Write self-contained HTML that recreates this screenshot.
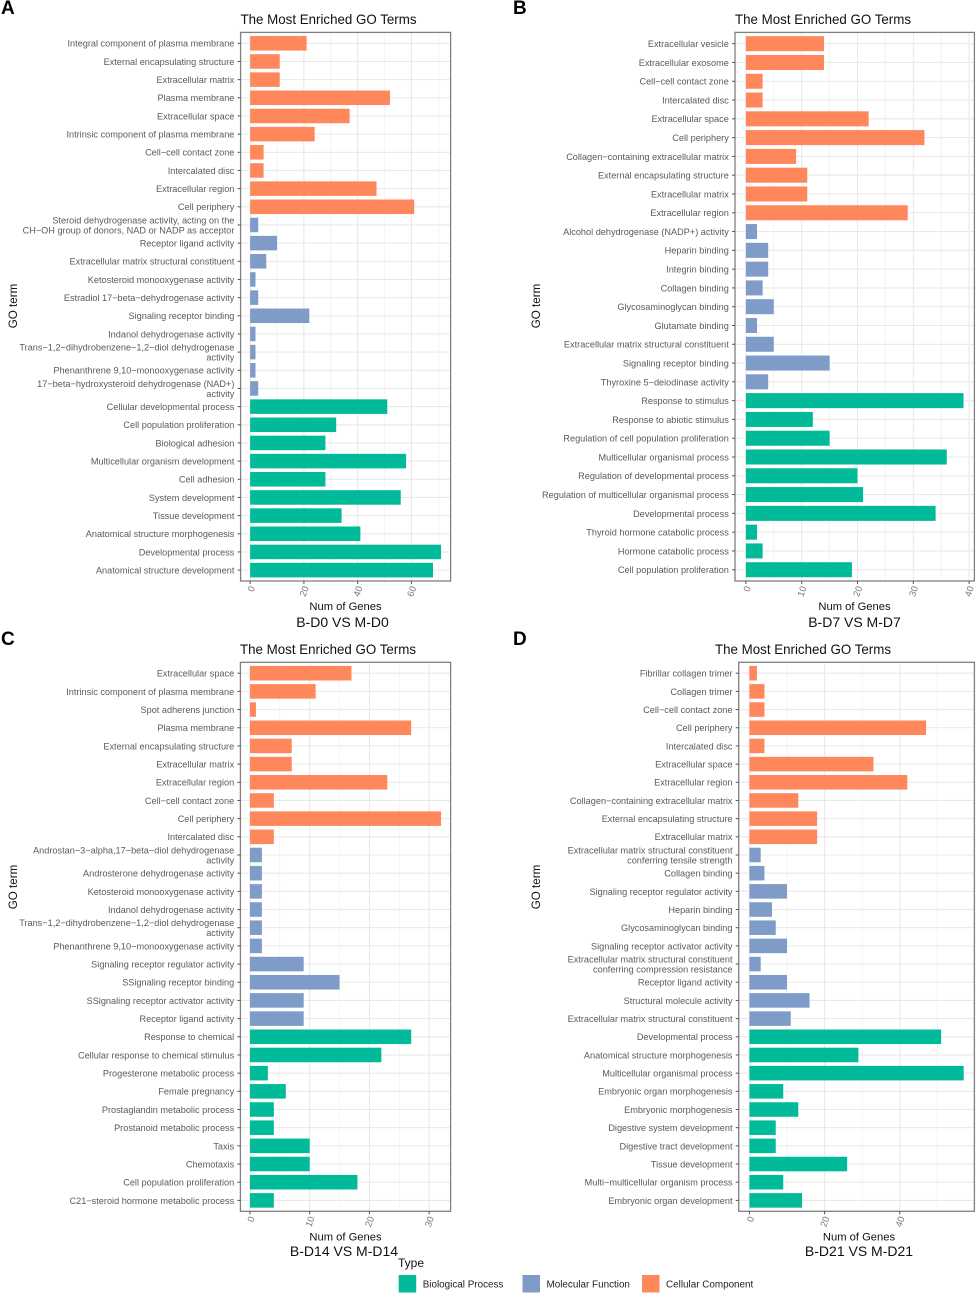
<!DOCTYPE html>
<html lang="en">
<head>
<meta charset="utf-8">
<title>The Most Enriched GO Terms</title>
<style>
html,body{margin:0;padding:0;background:#fff;}
body{width:976px;height:1294px;overflow:hidden;}
svg{display:block;font-family:"Liberation Sans",Arial,sans-serif;}
</style>
</head>
<body>
<svg id="figure" xmlns="http://www.w3.org/2000/svg" width="976" height="1294" viewBox="0 0 976 1294"></svg>
<script>
// ---------- Data ----------
const aTerms = ["Integral component of plasma membrane","External encapsulating structure","Extracellular matrix","Plasma membrane","Extracellular space","Intrinsic component of plasma membrane","Cell−cell contact zone","Intercalated disc","Extracellular region","Cell periphery","Steroid dehydrogenase activity, acting on the\nCH−OH group of donors, NAD or NADP as acceptor","Receptor ligand activity","Extracellular matrix structural constituent","Ketosteroid monooxygenase activity","Estradiol 17−beta−dehydrogenase activity","Signaling receptor binding","Indanol dehydrogenase activity","Trans−1,2−dihydrobenzene−1,2−diol dehydrogenase\nactivity","Phenanthrene 9,10−monooxygenase activity","17−beta−hydroxysteroid dehydrogenase (NAD+)\nactivity","Cellular developmental process","Cell population proliferation","Biological adhesion","Multicellular organism development","Cell adhesion","System development","Tissue development","Anatomical structure morphogenesis","Developmental process","Anatomical structure development"];
const aCounts = [21,11,11,52,37,24,5,5,47,61,3,10,6,2,3,22,2,2,2,3,51,32,28,58,28,56,34,41,71,68];
const aTypes = ["CC","CC","CC","CC","CC","CC","CC","CC","CC","CC","MF","MF","MF","MF","MF","MF","MF","MF","MF","MF","BP","BP","BP","BP","BP","BP","BP","BP","BP","BP"];
const aTicks = [0,20,40,60];

const bTerms = ["Extracellular vesicle","Extracellular exosome","Cell−cell contact zone","Intercalated disc","Extracellular space","Cell periphery","Collagen−containing extracellular matrix","External encapsulating structure","Extracellular matrix","Extracellular region","Alcohol dehydrogenase (NADP+) activity","Heparin binding","Integrin binding","Collagen binding","Glycosaminoglycan binding","Glutamate binding","Extracellular matrix structural constituent","Signaling receptor binding","Thyroxine 5−deiodinase activity","Response to stimulus","Response to abiotic stimulus","Regulation of cell population proliferation","Multicellular organismal process","Regulation of developmental process","Regulation of multicellular organismal process","Developmental process","Thyroid hormone catabolic process","Hormone catabolic process","Cell population proliferation"];
const bCounts = [14,14,3,3,22,32,9,11,11,29,2,4,4,3,5,2,5,15,4,39,12,15,36,20,21,34,2,3,19];
const bTypes = ["CC","CC","CC","CC","CC","CC","CC","CC","CC","CC","MF","MF","MF","MF","MF","MF","MF","MF","MF","BP","BP","BP","BP","BP","BP","BP","BP","BP","BP"];
const bTicks = [0,10,20,30,40];

const cTerms = ["Extracellular space","Intrinsic component of plasma membrane","Spot adherens junction","Plasma membrane","External encapsulating structure","Extracellular matrix","Extracellular region","Cell−cell contact zone","Cell periphery","Intercalated disc","Androstan−3−alpha,17−beta−diol dehydrogenase\nactivity","Androsterone dehydrogenase activity","Ketosteroid monooxygenase activity","Indanol dehydrogenase activity","Trans−1,2−dihydrobenzene−1,2−diol dehydrogenase\nactivity","Phenanthrene 9,10−monooxygenase activity","Signaling receptor regulator activity","SSignaling receptor binding","SSignaling receptor activator activity","Receptor ligand activity","Response to chemical","Cellular response to chemical stimulus","Progesterone metabolic process","Female pregnancy","Prostaglandin metabolic process","Prostanoid metabolic process","Taxis","Chemotaxis","Cell population proliferation","C21−steroid hormone metabolic process"];
const cCounts = [17,11,1,27,7,7,23,4,32,4,2,2,2,2,2,2,9,15,9,9,27,22,3,6,4,4,10,10,18,4];
const cTypes = ["CC","CC","CC","CC","CC","CC","CC","CC","CC","CC","MF","MF","MF","MF","MF","MF","MF","MF","MF","MF","BP","BP","BP","BP","BP","BP","BP","BP","BP","BP"];
const cTicks = [0,10,20,30];

const dTerms = ["Fibrillar collagen trimer","Collagen trimer","Cell−cell contact zone","Cell periphery","Intercalated disc","Extracellular space","Extracellular region","Collagen−containing extracellular matrix","External encapsulating structure","Extracellular matrix","Extracellular matrix structural constituent\nconferring tensile strength","Collagen binding","Signaling receptor regulator activity","Heparin binding","Glycosaminoglycan binding","Signaling receptor activator activity","Extracellular matrix structural constituent\nconferring compression resistance","Receptor ligand activity","Structural molecule activity","Extracellular matrix structural constituent","Developmental process","Anatomical structure morphogenesis","Multicellular organismal process","Embryonic organ morphogenesis","Embryonic morphogenesis","Digestive system development","Digestive tract development","Tissue development","Multi−multicellular organism process","Embryonic organ development"];
const dCounts = [2,4,4,47,4,33,42,13,18,18,3,4,10,6,7,10,3,10,16,11,51,29,57,9,13,7,7,26,9,14];
const dTypes = ["CC","CC","CC","CC","CC","CC","CC","CC","CC","CC","MF","MF","MF","MF","MF","MF","MF","MF","MF","MF","BP","BP","BP","BP","BP","BP","BP","BP","BP","BP"];
const dTicks = [0,20,40];

const legendKeys = ["BP","MF","CC"];
const legendLabels = ["Biological Process","Molecular Function","Cellular Component"];

// ---------- Layout & style ----------
const NS = "http://www.w3.org/2000/svg";
const fig = document.getElementById("figure");
const colors = {BP:"#00ba9a",MF:"#7f9bc8",CC:"#ff875c"};

function mk(tag, attrs, parent, text){
  const el = document.createElementNS(NS, tag);
  for(const k in attrs) el.setAttribute(k, attrs[k]);
  if(text !== undefined) el.textContent = text;
  (parent || fig).appendChild(el);
  return el;
}

function drawPanel(p){
  const g = mk("g", {}, fig);
  
  

  // ggplot-like continuous x scale with 5% expansion
  const maxV = Math.max.apply(null, p.counts);
  const pad = maxV * 0.05;
  const x = v => p.left + (v + pad) / (maxV + 2 * pad) * (p.right - p.left);
  // discrete y scale with 0.6 expansion
  const n = p.terms.length;
  const step = (p.bottom - p.top) / (n + 0.2);
  const y = i => p.top + (i + 0.6) * step;
  const barH = step * 0.8;

  // panel letter
  const letter = mk("text", {x:p.letterX, y:p.letterY, "font-size":19, "font-weight":"bold", fill:"#000"}, g, p.id);
  
  

  // title
  const title = mk("text", {x:p.titleX, y:p.top - 8.5, "font-size":14, fill:"#111", textLength:176, lengthAdjust:"spacingAndGlyphs"}, g, "The Most Enriched GO Terms");
  
  

  // grid
  const grid = mk("g", {}, g);
  
  
  const tickStep = p.ticks[1] - p.ticks[0];
  const minor = p.ticks.map(t => t + tickStep / 2);
  minor.forEach(t => {
    if(x(t) < p.right) mk("line", {x1:x(t), x2:x(t), y1:p.top, y2:p.bottom, stroke:"#f0f0f0", "stroke-width":0.7}, grid);
  });
  p.ticks.forEach(t => {
    mk("line", {x1:x(t), x2:x(t), y1:p.top, y2:p.bottom, stroke:"#e9e9e9", "stroke-width":1.1}, grid);
  });
  p.terms.forEach((_, i) => {
    mk("line", {x1:p.left, x2:p.right, y1:y(i), y2:y(i), stroke:"#e9e9e9", "stroke-width":1.1}, grid);
  });

  // bars
  p.terms.forEach((term, i) => {
    const r = mk("rect", {x:x(0), y:y(i) - barH / 2, width:x(p.counts[i]) - x(0), height:barH, fill:colors[p.types[i]]}, g);
    
    
  });

  // border
  const box = mk("rect", {x:p.left, y:p.top, width:p.right - p.left, height:p.bottom - p.top, fill:"none", stroke:"#808080", "stroke-width":1.3}, g);
  
  

  // y axis
  const yAxis = mk("g", {}, g);
  
  
  p.terms.forEach((term, i) => {
    mk("line", {x1:p.left - 3, x2:p.left, y1:y(i), y2:y(i), stroke:"#555", "stroke-width":1}, yAxis);
    const lines = term.split("\n");
    lines.forEach((ln, k) => {
      const yy = y(i) + 3.4 + (k - (lines.length - 1) / 2) * 9.9;
      const t = mk("text", {x:p.left - 6.2, y:yy, "text-anchor":"end", "font-size":9.16, fill:"#5a5a5a"}, yAxis, ln);
      
      
    });
  });

  // x axis
  const xAxis = mk("g", {}, g);
  
  
  p.ticks.forEach(t => {
    mk("line", {x1:x(t), x2:x(t), y1:p.bottom, y2:p.bottom + 3, stroke:"#555", "stroke-width":1}, xAxis);
    const px = x(t) + 5, py = p.bottom + 6.5;
    const lab = mk("text", {x:px, y:py, "text-anchor":"end", "font-size":9.4, fill:"#7a7a7a",
      transform:"rotate(-70 " + px + " " + py + ")"}, xAxis, String(t));
    
    
  });

  // axis titles
  const xt = mk("text", {x:p.xTitleX, y:p.bottom + 29, "text-anchor":"middle", "font-size":11.2, fill:"#111"}, g, "Num of Genes");
  
  
  const yt = mk("text", {x:0, y:0, "text-anchor":"middle", "font-size":11.6, fill:"#111",
    transform:"translate(" + p.yTitleX + " " + p.yTitleY + ") rotate(-90)"}, g, "GO term");
  
  

  // comparison caption
  const cap = mk("text", {x:p.capX, y:p.capY, "text-anchor":"middle", "font-size":14, fill:"#111"}, g, p.caption);
  
  
}

drawPanel({id:"A",terms:aTerms,counts:aCounts,types:aTypes,ticks:aTicks,caption:"B-D0 VS M-D0",left:240.6,right:450.6,top:32.4,bottom:581,titleX:240.5,letterX:1,letterY:14,xTitleX:345.5,capX:342.5,capY:627,yTitleX:17,yTitleY:306});
drawPanel({id:"B",terms:bTerms,counts:bCounts,types:bTypes,ticks:bTicks,caption:"B-D7 VS M-D7",left:735,right:974.4,top:32.4,bottom:581,titleX:735,letterX:513,letterY:14,xTitleX:854.5,capX:854.5,capY:627,yTitleX:540,yTitleY:306});
drawPanel({id:"C",terms:cTerms,counts:cCounts,types:cTypes,ticks:cTicks,caption:"B-D14 VS M-D14",left:240.4,right:450.6,top:662.3,bottom:1211.3,titleX:240,letterX:1,letterY:645,xTitleX:345.5,capX:344,capY:1256,yTitleX:17,yTitleY:887});
drawPanel({id:"D",terms:dTerms,counts:dCounts,types:dTypes,ticks:dTicks,caption:"B-D21 VS M-D21",left:738.7,right:974.4,top:662.3,bottom:1211.3,titleX:715,letterX:513,letterY:645,xTitleX:859,capX:859,capY:1256,yTitleX:540,yTitleY:887});

// ---------- Legend ----------
const legend = mk("g", {}, fig);


const legendTitle = mk("text", {x:398, y:1267, "font-size":12, fill:"#111"}, legend, "Type");


const legendX = [398.7, 522.5, 642];
legendKeys.forEach((key, i) => {
  const entry = mk("g", {}, legend);
  
  
  mk("rect", {x:legendX[i], y:1275, width:17.5, height:17.5, fill:colors[key]}, entry);
  mk("text", {x:legendX[i] + 24, y:1287.5, "font-size":9.9, fill:"#222"}, entry, legendLabels[i]);
});
</script>
</body>
</html>
